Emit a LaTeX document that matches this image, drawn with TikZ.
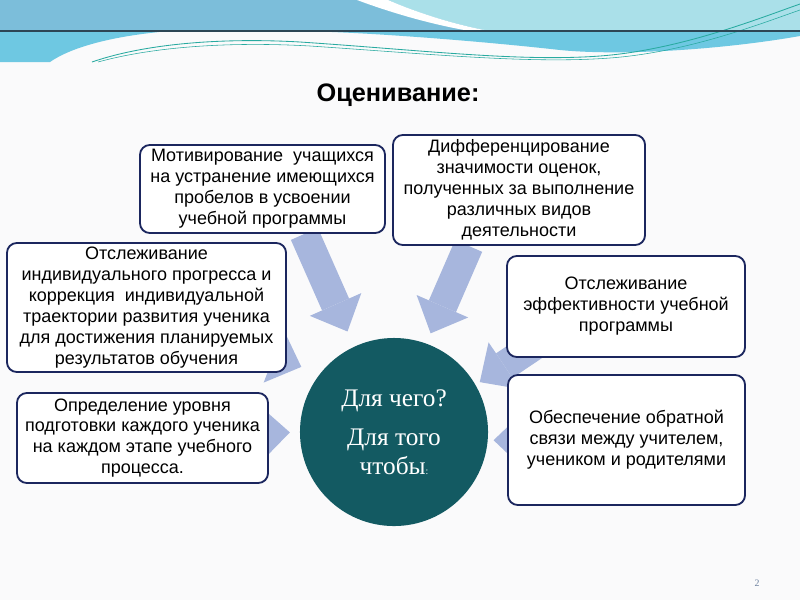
\documentclass[tikz,border=0pt]{standalone}
\usepackage{fontspec}
\setmainfont{Liberation Sans}
\newfontfamily\serifcyr{Liberation Serif}
\usetikzlibrary{arrows.meta,positioning,backgrounds}
\definecolor{PageGray}{RGB}{250,250,251}
\definecolor{BandBlue}{RGB}{124,190,218}
\definecolor{BandAqua}{RGB}{170,224,233}
\definecolor{BandDeep}{RGB}{110,200,226}
\definecolor{TealLine}{RGB}{40,170,160}
\definecolor{RuleDark}{RGB}{45,70,85}
\definecolor{NavyEdge}{RGB}{27,38,94}
\definecolor{ArrowBlue}{RGB}{167,182,221}
\definecolor{CircleTeal}{RGB}{19,90,98}
\definecolor{PageNum}{RGB}{110,130,160}

\tikzset{
  goalbox/.style={draw=NavyEdge, line width=1.3pt, rounded corners=7pt,
    fill=white, align=center, inner sep=1pt,
    font=\fontsize{12.8}{14.9}\selectfont},
  bigarrow/.style={ArrowBlue, line width=21pt,
    -{Triangle[width=40pt,length=21pt,line width=0pt]}}
}

\begin{document}
\begin{tikzpicture}[x=0.025cm,y=-0.025cm]
  \useasboundingbox (0,0) rectangle (800,600);

  \node[font=\bfseries\fontsize{18}{21}\selectfont] (title) at (398,95) {Оценивание:};

  \node[goalbox, minimum width=6.125cm, minimum height=2.2cm] (motiv) at (262.5,189)
    {Мотивирование \ учащихся\\на устранение имеющихся\\пробелов в усвоении\\учебной программы};
  \node[goalbox, minimum width=6.3cm, minimum height=2.75cm] (diff) at (519,190)
    {Дифференцирование\\значимости оценок,\\полученных за выполнение\\различных видов\\деятельности};
  \node[goalbox, minimum width=6.975cm, minimum height=3.225cm] (track) at (146.5,307.5)
    {Отслеживание\\индивидуального прогресса и\\коррекция \ индивидуальной\\траектории развития ученика\\для достижения планируемых\\результатов обучения};
  \node[goalbox, minimum width=6.275cm, minimum height=2.25cm] (level) at (142.5,438)
    {Определение уровня\\подготовки каждого ученика\\на каждом этапе учебного\\процесса.};
  \node[goalbox, minimum width=5.95cm, minimum height=2.525cm] (effect) at (626,306.5)
    {Отслеживание\\эффективности учебной\\программы};
  \node[goalbox, minimum width=5.925cm, minimum height=3.25cm] (support) at (626.5,440)
    {Обеспечение обратной\\связи между учителем,\\учеником и родителями};

  \node[circle, fill=CircleTeal, minimum size=4.7cm, inner sep=0pt, text=white,
    align=center, font=\serifcyr\fontsize{18}{20}\selectfont] (goal) at (394,432)
    {Для чего?\\[8pt]Для того\\чтобы{\scriptsize :}};

  \node[font=\serifcyr\scriptsize, text=PageNum] (pnum) at (757,583) {2};

  \begin{scope}[on background layer]
    \fill[PageGray] (0,0) rectangle (800,600);
    % band at the top
    \fill[BandBlue] (0,0) rectangle (800,31);
    \fill[BandAqua] (388,0) .. controls (420,14) and (460,26) .. (490,31) -- (800,31) -- (800,0) -- cycle;
    \fill[white] (357,0) .. controls (400,16) and (440,26) .. (470,31) -- (490,31)
      .. controls (460,26) and (420,14) .. (388,0) -- cycle;
    \fill[BandDeep] (0,31) -- (800,31) -- (800,36) .. controls (720,50) and (620,56) .. (560,50)
      .. controls (470,40) and (350,31) .. (290,31) -- (170,31)
      .. controls (110,36) and (70,48) .. (50,62) -- (0,62) -- cycle;
    \draw[TealLine, line width=0.6pt] (92,62) .. controls (150,42) and (230,38) .. (300,42)
      .. controls (420,50) and (520,62) .. (600,56) .. controls (680,50) and (760,18) .. (800,4);
    \draw[TealLine, line width=0.4pt] (98,62) .. controls (160,45) and (240,42) .. (310,46)
      .. controls (430,54) and (530,64) .. (610,58) .. controls (690,52) and (765,22) .. (800,10);
    \draw[RuleDark, line width=0.8pt] (0,31) -- (800,31);
    % arrows into the circle
    \draw[bigarrow, shorten >=11.7pt] (motiv.-47) -- (goal.115);
    \draw[bigarrow, shorten >=7.8pt] (diff.-132) -- (goal.70.5);
    \draw[bigarrow, shorten <=-30pt, shorten >=3.5pt] (effect.-155) -- (goal.30);
    \draw[bigarrow, shorten >=4pt] (support.center) -- (goal.-5);
    \draw[bigarrow, shorten >=14pt] (track.center) -- (goal.142);
    \draw[bigarrow, shorten >=7pt] (level.center) -- (goal.180);
  \end{scope}
\end{tikzpicture}
\end{document}
